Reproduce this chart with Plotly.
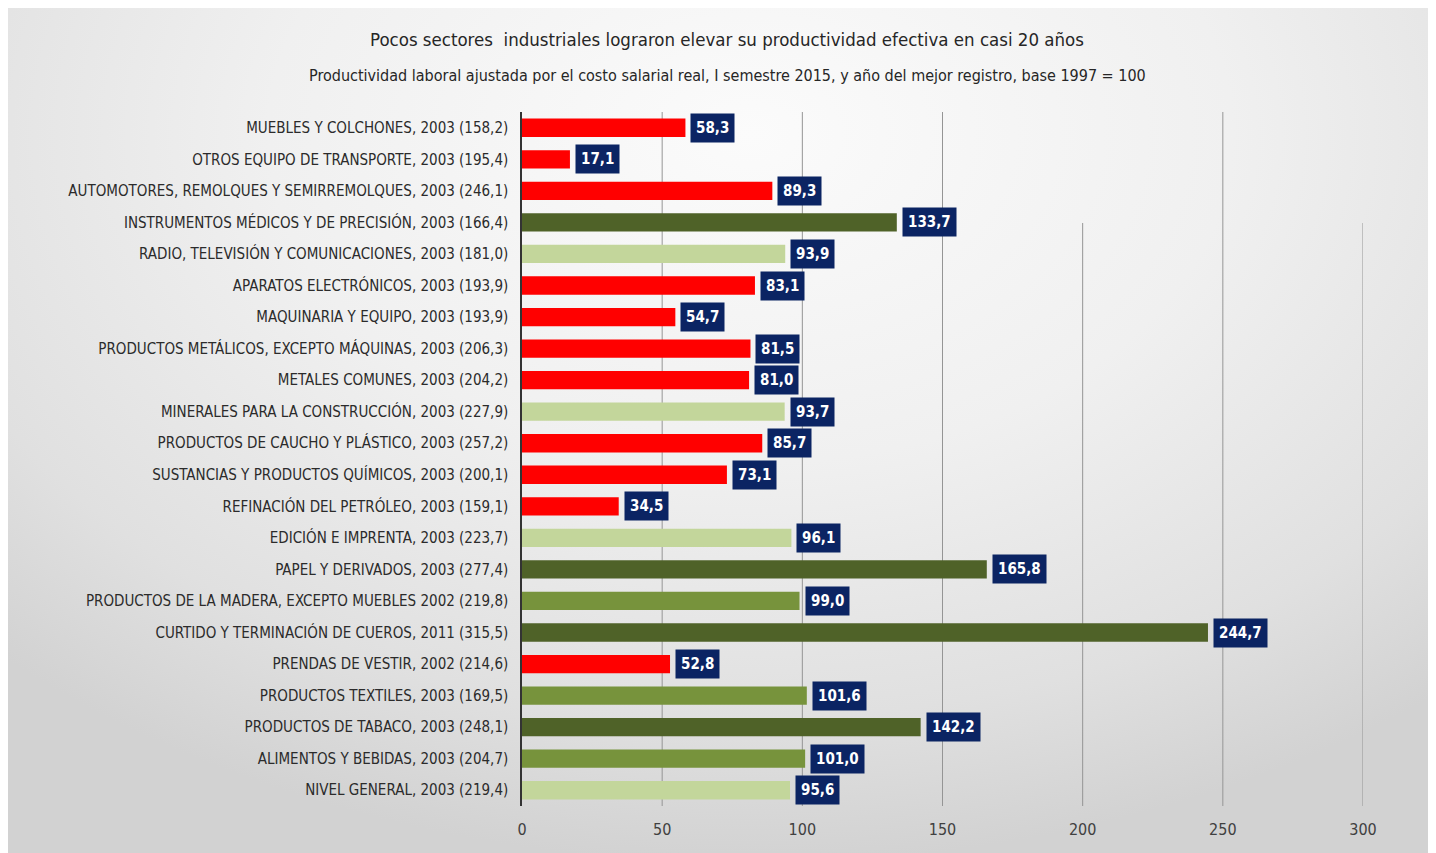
import base64
import plotly.graph_objects as go

categories = [
    "MUEBLES Y COLCHONES, 2003 (158,2)",
    "OTROS EQUIPO DE TRANSPORTE, 2003 (195,4)",
    "AUTOMOTORES, REMOLQUES Y SEMIRREMOLQUES, 2003 (246,1)",
    "INSTRUMENTOS MÉDICOS Y DE PRECISIÓN, 2003 (166,4)",
    "RADIO, TELEVISIÓN Y COMUNICACIONES, 2003 (181,0)",
    "APARATOS ELECTRÓNICOS, 2003 (193,9)",
    "MAQUINARIA Y EQUIPO, 2003 (193,9)",
    "PRODUCTOS METÁLICOS, EXCEPTO MÁQUINAS, 2003 (206,3)",
    "METALES COMUNES, 2003 (204,2)",
    "MINERALES PARA LA CONSTRUCCIÓN, 2003 (227,9)",
    "PRODUCTOS DE CAUCHO Y PLÁSTICO, 2003 (257,2)",
    "SUSTANCIAS Y PRODUCTOS QUÍMICOS, 2003 (200,1)",
    "REFINACIÓN DEL PETRÓLEO, 2003 (159,1)",
    "EDICIÓN E IMPRENTA, 2003 (223,7)",
    "PAPEL Y DERIVADOS, 2003 (277,4)",
    "PRODUCTOS DE LA MADERA, EXCEPTO MUEBLES 2002 (219,8)",
    "CURTIDO Y TERMINACIÓN DE CUEROS, 2011 (315,5)",
    "PRENDAS DE VESTIR, 2002 (214,6)",
    "PRODUCTOS TEXTILES, 2003 (169,5)",
    "PRODUCTOS DE TABACO, 2003 (248,1)",
    "ALIMENTOS Y BEBIDAS, 2003 (204,7)",
    "NIVEL GENERAL, 2003 (219,4)",
]
values = [58.3, 17.1, 89.3, 133.7, 93.9, 83.1, 54.7, 81.5, 81.0, 93.7, 85.7,
          73.1, 34.5, 96.1, 165.8, 99.0, 244.7, 52.8, 101.6, 142.2, 101.0, 95.6]
groups = ["red", "red", "red", "dark", "light", "red", "red", "red", "red", "light", "red",
          "red", "red", "light", "dark", "mid", "dark", "red", "mid", "dark", "mid", "light"]
x_ticks = [0, 50, 100, 150, 200, 250, 300]

palette = {"red": "#ff0000", "dark": "#4f6228", "mid": "#77933c", "light": "#c3d69b"}
colors = [palette[g] for g in groups]
labels = [f"{v:.1f}".replace(".", ",") for v in values]

FONT = "Liberation Sans Narrow, DejaVu Sans Condensed, Arial Narrow, sans-serif"

FW, FH = 1428, 845
L, R, T, B = 514, 1355, 104, 798
W, H = R - L, B - T
def px(xp):
    return (xp - L) / W
def py(yp):
    return (B - yp) / H

fig = go.Figure()
fig.add_trace(go.Bar(
    y=categories, x=values, orientation="h",
    marker=dict(color=colors, line=dict(width=0)),
    width=0.58, hoverinfo="x+y",
))

for c, v, t in zip(categories, values, labels):
    fig.add_annotation(
        x=v, y=c, xref="x", yref="y", text="<b>" + t + "</b>", showarrow=False,
        xanchor="left", xshift=5,
        font=dict(family=FONT, size=15, color="white"),
        bgcolor="#0b2463", borderpad=5,
    )

# vertical gridlines
for tv in x_ticks[1:]:
    top = py(215) if tv in (200, 300) else 1
    fig.add_shape(type="line", xref="x", yref="paper", x0=tv, x1=tv, y0=0, y1=top,
                  line=dict(color="#959595", width=1), layer="below")

# background gradient image
svg = ('<svg xmlns="http://www.w3.org/2000/svg" width="1428" height="845" viewBox="0 0 1428 845" '
       'preserveAspectRatio="none"><defs><radialGradient id="g" cx="0.52" cy="0.15" r="0.75" '
       'gradientTransform="translate(0.52,0.15) scale(1,1.15) translate(-0.52,-0.15)">'
       '<stop offset="0" stop-color="#fbfbfb"/><stop offset="0.45" stop-color="#f0f0f0"/>'
       '<stop offset="0.8" stop-color="#e0e0e0"/><stop offset="1" stop-color="#d2d2d2"/>'
       '</radialGradient></defs><rect width="1428" height="845" fill="url(#g)"/></svg>')
src = "data:image/svg+xml;base64," + base64.b64encode(svg.encode()).decode()

fig.add_layout_image(dict(
    source=src, xref="paper", yref="paper",
    x=px(0), y=py(0), sizex=px(FW) - px(0), sizey=py(0) - py(FH),
    xanchor="left", yanchor="top", sizing="stretch", layer="below",
))

fig.add_annotation(
    text="Pocos sectores&nbsp; industriales lograron elevar su productividad efectiva en casi 20 años",
    xref="paper", yref="paper", x=px(719), y=py(32), showarrow=False,
    xanchor="center", yanchor="middle",
    font=dict(family=FONT, size=18.5, color="#262626"),
)
fig.add_annotation(
    text="Productividad laboral ajustada por el costo salarial real, I semestre 2015, y año del mejor registro, base 1997 = 100",
    xref="paper", yref="paper", x=px(719), y=py(68), showarrow=False,
    xanchor="center", yanchor="middle",
    font=dict(family=FONT, size=16, color="#262626"),
)

fig.update_layout(
    width=FW, height=FH,
    margin=dict(l=L, r=FW - R, t=T, b=FH - B),
    paper_bgcolor="white", plot_bgcolor="rgba(0,0,0,0)",
    showlegend=False, bargap=0.4,
    font=dict(family=FONT, size=15, color="#2b2b2b"),
    xaxis=dict(
        range=[0, 300], tickvals=x_ticks, ticktext=[str(v) for v in x_ticks],
        showgrid=False, zeroline=False, ticklabelstandoff=12,
        showline=False, ticks="", tickfont=dict(family=FONT, size=16, color="#404040"),
        fixedrange=True,
    ),
    yaxis=dict(
        categoryorder="array", categoryarray=categories, autorange="reversed",
        showgrid=False, zeroline=False, showline=True, linecolor="#333333", linewidth=1.5,
        ticks="", ticklabelstandoff=9,
        tickfont=dict(family=FONT, size=15, color="#2b2b2b"), fixedrange=True,
    ),
)

fig.write_html("out.html")
